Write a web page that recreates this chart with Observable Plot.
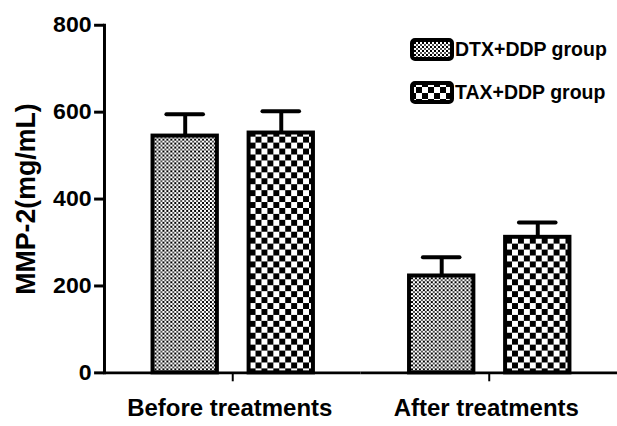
<!DOCTYPE html>
<html>
<head>
<meta charset="utf-8">
<script src="https://cdn.jsdelivr.net/npm/d3@7"></script>
<script src="https://cdn.jsdelivr.net/npm/@observablehq/plot@0.6"></script>
<style>
  html, body { margin: 0; padding: 0; background: white; overflow: hidden; }
  #wrap { position: relative; width: 617px; height: 426px; overflow: hidden; }
  #legend { position: absolute; left: 410px; top: 38px; font-family: "Liberation Sans", Arial, sans-serif; font-weight: bold; font-size: 19.5px; color: black; }
  .row { display: flex; align-items: center; height: 22px; margin-bottom: 21px; }
  .row svg { margin-right: 1px; }
</style>
</head>
<body>
<div id="wrap"><div id="legend"></div></div>
<script>
const groups = ["Before treatments", "After treatments"];
const series = ["DTX+DDP group", "TAX+DDP group"];
const dtxMean = [545, 223];
const dtxSD = [50, 43];
const taxMean = [552, 312];
const taxSD = [50, 34];
const yTicks = [0, 200, 400, 600, 800];
const patternIds = ["pDTX", "pTAX"];

const data = [];
groups.forEach((g, i) => {
  data.push({group: g, series: series[0], value: dtxMean[i], sd: dtxSD[i]});
  data.push({group: g, series: series[1], value: taxMean[i], sd: taxSD[i]});
});

const font = "'Liberation Sans', Arial, sans-serif";

const barMarks = series.map((s, k) =>
  Plot.barY(data.filter(d => d.series === s), {
    fx: "group", x: "series", y: "value",
    fill: `url(#${patternIds[k]})`, stroke: "black", strokeWidth: 4
  })
);

const plot = Plot.plot({
  width: 623,
  height: 426,
  marginLeft: 105,
  marginRight: 0,
  marginTop: 25,
  marginBottom: 50,
  style: {fontFamily: font, color: "black", background: "white"},
  fx: {domain: groups, padding: 0, label: null},
  x: {domain: series, paddingInner: 0.33, paddingOuter: 0.5, axis: null},
  y: {domain: [0, 800]},
  marks: [
    Plot.ruleX(data, {fx: "group", x: "series", y1: "value", y2: d => d.value + d.sd, stroke: "black", strokeWidth: 4}),
    Plot.tickY(data, {fx: "group", x: "series", y: d => d.value + d.sd, stroke: "black", strokeWidth: 4, inset: 14, strokeLinecap: "round"}),
    ...barMarks,
    Plot.ruleY([0], {stroke: "black", strokeWidth: 3}),
    Plot.frame({anchor: "left", stroke: "black", strokeWidth: 3, facetAnchor: "left"}),
    Plot.axisY({ticks: yTicks, tickSize: 10, tickPadding: 3, strokeWidth: 3, fontSize: 22, fontWeight: "bold",
      label: "MMP-2(mg/mL)", labelAnchor: "center", labelArrow: "none", labelOffset: 89}),
    Plot.axisFx({anchor: "bottom", tickSize: 9, tickPadding: 18, strokeWidth: 2, fontSize: 24, fontWeight: "bold", label: null, textAnchor: "middle"})
  ]
});

const svg = d3.select(plot);
svg.insert("defs", ":first-child").html(`
  <pattern id="pDTX" patternUnits="userSpaceOnUse" width="4" height="4">
    <rect width="4" height="4" fill="white"/>
    <rect x="0" y="0" width="2" height="2" fill="black"/>
    <rect x="2" y="2" width="2" height="2" fill="#505050"/>
  </pattern>
  <pattern id="pTAX" patternUnits="userSpaceOnUse" width="12" height="12">
    <rect width="12" height="12" fill="white"/>
    <rect x="0" y="0" width="6" height="6" fill="black"/>
    <rect x="6" y="6" width="6" height="6" fill="black"/>
  </pattern>
`);

document.getElementById("wrap").prepend(plot);

svg.selectAll('g[aria-label="y-axis label"] text').style("font-size", "27px").style("font-weight", "bold");

function stretch(sel, f) {
  svg.selectAll(sel).each(function() {
    const w = this.getComputedTextLength();
    this.setAttribute("textLength", w * f);
    this.setAttribute("lengthAdjust", "spacingAndGlyphs");
  });
}
stretch('g[aria-label="y-axis tick label"] text', 1.06);
stretch('g[aria-label="fx-axis tick label"] text', 1.01);
svg.selectAll('g[aria-label="fx-axis tick label"] text').attr("dx", -3);

const legend = d3.select("#legend");
series.forEach((s, k) => {
  const row = legend.append("div").attr("class", "row");
  const sw = row.append("svg").attr("width", 44).attr("height", 23);
  sw.append("rect").attr("x", 2).attr("y", 2).attr("width", 40).attr("height", 19)
    .attr("rx", 3).attr("fill", `url(#${patternIds[k]})`).attr("stroke", "black").attr("stroke-width", 4);
  row.append("span").text(s);
});
</script>
</body>
</html>
